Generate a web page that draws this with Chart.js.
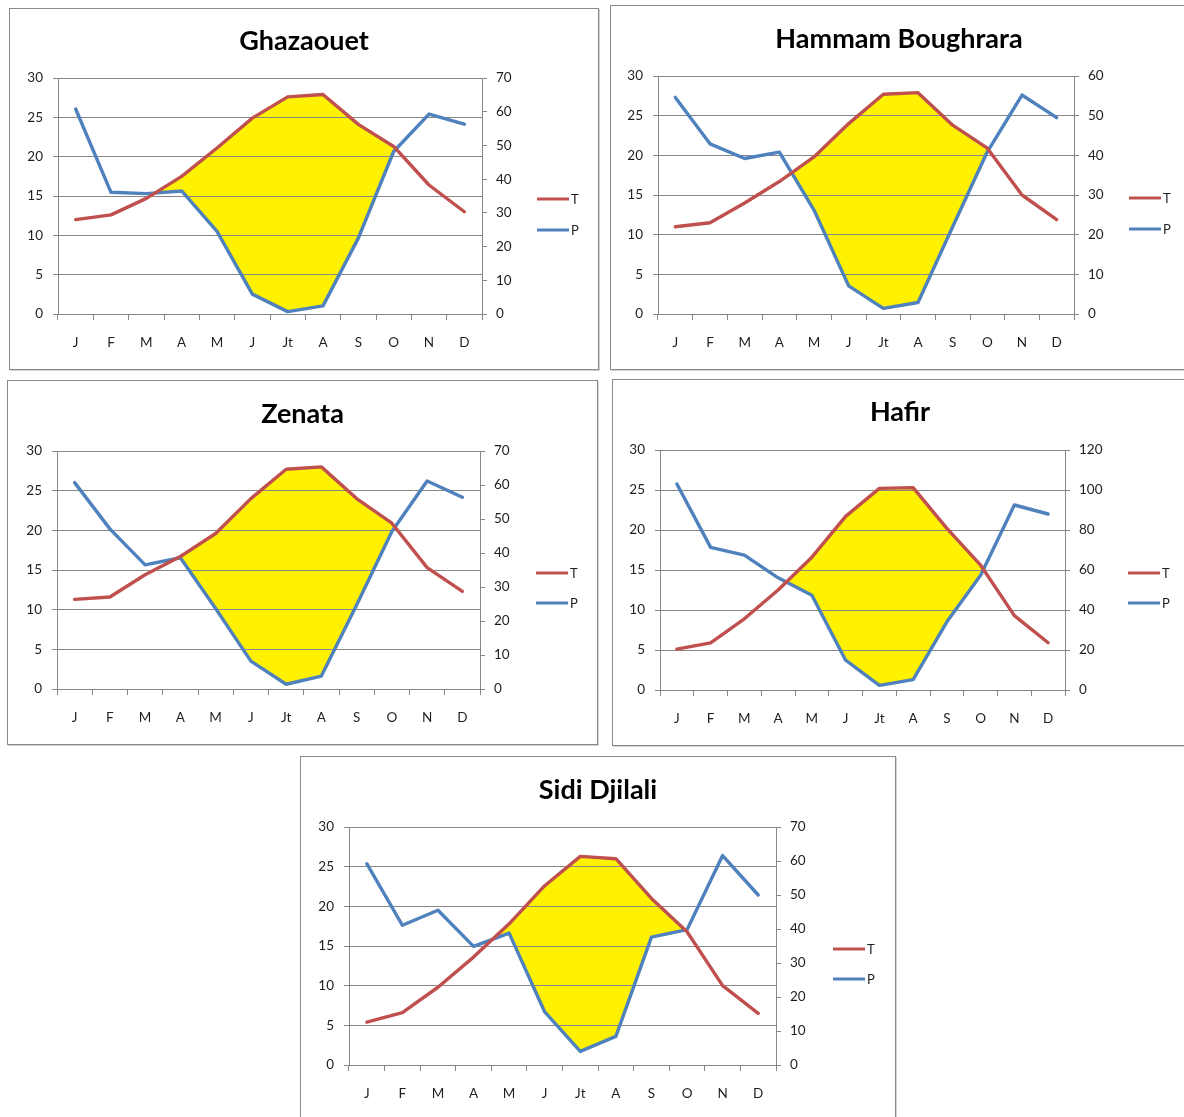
<!DOCTYPE html>
<html>
<head>
<meta charset="utf-8">
<title>Diagrammes ombrothermiques</title>
<script src="https://cdn.jsdelivr.net/npm/chart.js@4.4.1/dist/chart.umd.min.js"></script>
<style>
  html, body { margin: 0; padding: 0; width: 1184px; height: 1117px; overflow: hidden; background: #fff; }
  .panel { position: absolute; box-sizing: border-box; border: 1px solid #8a8a8a; box-shadow: 1px 1px 0 #d2d2d2; background: #fff; }
  .panel canvas { position: absolute; left: 0; top: 0; }
</style>
</head>
<body>
<script>
// Months (category axis)
const months = ['J', 'F', 'M', 'A', 'M', 'J', 'Jt', 'A', 'S', 'O', 'N', 'D'];

// Legend labels
const seriesNames = ['T', 'P'];

// Mean monthly temperature (°C) and precipitation (mm) per station
const ghazaouetT = [12.0, 12.6, 14.7, 17.5, 21.1, 24.9, 27.6, 27.9, 24.1, 21.3, 16.4, 13.0];
const ghazaouetP = [60.8, 36.1, 35.7, 36.5, 24.5, 5.9, 0.7, 2.4, 22.5, 48.2, 59.3, 56.3];

const hammamT = [11.0, 11.5, 14.0, 16.7, 19.8, 24.0, 27.7, 27.9, 23.8, 20.9, 15.0, 11.9];
const hammamP = [54.6, 42.9, 39.2, 40.8, 26.2, 7.1, 1.4, 2.9, 22.0, 40.9, 55.2, 49.5];

const zenataT = [11.3, 11.6, 14.4, 16.7, 19.6, 24.0, 27.7, 28.0, 24.0, 20.9, 15.3, 12.3];
const zenataP = [60.7, 47.1, 36.5, 38.6, 23.7, 8.2, 1.4, 3.8, 24.7, 46.3, 61.2, 56.4];

const hafirT = [5.1, 5.9, 8.9, 12.5, 16.6, 21.7, 25.2, 25.3, 20.2, 15.6, 9.3, 5.9];
const hafirP = [103.0, 71.3, 67.4, 56.1, 47.4, 14.9, 2.3, 5.2, 34.1, 57.4, 92.5, 88.0];

const sidiT = [5.4, 6.6, 9.8, 13.6, 17.8, 22.6, 26.3, 26.0, 21.0, 16.8, 10.0, 6.5];
const sidiP = [59.2, 41.1, 45.5, 34.9, 38.8, 15.6, 4.0, 8.4, 37.6, 39.8, 61.6, 50.0];

// Axis ranges
const tempMax = 30, tempStep = 5;
const precipMax = { ghazaouet: 70, hammam: 60, zenata: 70, hafir: 120, sidi: 70 };
const precipStep = { ghazaouet: 10, hammam: 10, zenata: 10, hafir: 20, sidi: 10 };

// Styling
const RED = '#C0504D';
const BLUE = '#4F81BD';
const YELLOW = '#FFF200';
const GRID = '#878787';
const TEXT = '#1e1e1e';
const FONT = 'Lato, "Open Sans", sans-serif';

// Panel placement (page pixels): frame box, plot area, title centre, legend anchor
const panels = [
  { key: 'ghazaouet', name: 'Ghazaouet', T: ghazaouetT, P: ghazaouetP,
    box: [9, 8, 590, 362], area: [58, 482, 78, 314], titleY: 41, legend: [537, 199, 230] },
  { key: 'hammam', name: 'Hammam Boughrara', T: hammamT, P: hammamP,
    box: [610, 5, 578, 365], area: [658, 1074, 76, 314], titleY: 39, legend: [1129, 198, 229] },
  { key: 'zenata', name: 'Zenata', T: zenataT, P: zenataP,
    box: [7, 380, 591, 365], area: [57, 480, 451, 689], titleY: 414, legend: [536, 573, 603] },
  { key: 'hafir', name: 'Hafir', T: hafirT, P: hafirP,
    box: [612, 379, 576, 367], area: [660, 1065, 450, 690], titleY: 412, legend: [1128, 573, 603] },
  { key: 'sidi', name: 'Sidi Djilali', T: sidiT, P: sidiP,
    box: [300, 756, 596, 370], area: [349, 776, 827, 1065], titleY: 790, legend: [833, 949, 979] }
];

// Small line legend drawn beside the plot
const lineLegend = {
  id: 'lineLegend',
  afterDraw(chart, args, opts) {
    const ctx = chart.ctx;
    ctx.save();
    ctx.font = '13px ' + FONT;
    ctx.textBaseline = 'middle';
    ctx.textAlign = 'left';
    chart.data.datasets.forEach((ds, i) => {
      const y = opts.ys[i];
      ctx.strokeStyle = ds.borderColor;
      ctx.lineWidth = 3;
      ctx.beginPath();
      ctx.moveTo(opts.x, y);
      ctx.lineTo(opts.x + 32, y);
      ctx.stroke();
      ctx.fillStyle = TEXT;
      ctx.fillText(ds.label, opts.x + 34, y + 1);
    });
    ctx.restore();
  }
};

panels.forEach(p => {
  const [bx, by, bw, bh] = p.box;
  const ox = bx + 1, oy = by + 1;          // canvas origin inside the frame border
  const W = bw - 2, H = bh - 2;
  const l = p.area[0] - ox, r = p.area[1] - ox, t = p.area[2] - oy, b = p.area[3] - oy;

  const div = document.createElement('div');
  div.className = 'panel';
  div.style.left = bx + 'px';
  div.style.top = by + 'px';
  div.style.width = bw + 'px';
  div.style.height = bh + 'px';
  const canvas = document.createElement('canvas');
  canvas.width = W;
  canvas.height = H;
  canvas.style.width = W + 'px';
  canvas.style.height = H + 'px';
  div.appendChild(canvas);
  document.body.appendChild(div);

  const titleSize = 27;
  const titleLine = titleSize * 1.2;
  const titleTop = (p.titleY - oy) - titleLine / 2;
  const titleBottom = t - titleTop - titleLine;

  new Chart(canvas, {
    type: 'line',
    data: {
      labels: months,
      datasets: [
        {
          label: seriesNames[0], data: p.T, yAxisID: 'yT',
          borderColor: RED, backgroundColor: RED, borderWidth: 3.4,
          pointRadius: 0, tension: 0, borderJoinStyle: 'round', borderCapStyle: 'round',
          fill: { target: 1, above: YELLOW, below: 'rgba(0,0,0,0)' }
        },
        {
          label: seriesNames[1], data: p.P, yAxisID: 'yP',
          borderColor: BLUE, backgroundColor: BLUE, borderWidth: 3.4,
          pointRadius: 0, tension: 0, borderJoinStyle: 'round', borderCapStyle: 'round',
          fill: false
        }
      ]
    },
    options: {
      responsive: false,
      animation: false,
      devicePixelRatio: 1,
      layout: { padding: 0 },
      plugins: {
        legend: { display: false },
        tooltip: { enabled: false },
        filler: { drawTime: 'beforeDraw', propagate: false },
        title: {
          display: true, text: p.name, color: '#000',
          font: { family: FONT, size: titleSize, weight: 'bold' },
          padding: { top: titleTop, bottom: titleBottom }
        },
        lineLegend: { x: p.legend[0] - ox, ys: [p.legend[1] - oy, p.legend[2] - oy] }
      },
      scales: {
        x: {
          type: 'category', offset: true,
          grid: { offset: true, drawOnChartArea: false, color: GRID, tickLength: 6 },
          border: { color: GRID },
          ticks: { color: TEXT, font: { family: FONT, size: 13.5 }, padding: 15, maxRotation: 0, autoSkip: false },
          afterFit: s => { s.height = H - b; }
        },
        yT: {
          position: 'left', min: 0, max: tempMax,
          ticks: { stepSize: tempStep, color: TEXT, font: { family: FONT, size: 13.5 }, padding: 10 },
          grid: { color: GRID, tickLength: 5 },
          border: { color: GRID },
          afterFit: s => { s.width = l; }
        },
        yP: {
          position: 'right', min: 0, max: precipMax[p.key],
          ticks: { stepSize: precipStep[p.key], color: TEXT, font: { family: FONT, size: 13.5 }, padding: 9 },
          grid: { drawOnChartArea: false, color: GRID, tickLength: 5 },
          border: { color: GRID },
          afterFit: s => { s.width = W - r; }
        }
      }
    },
    plugins: [lineLegend]
  });
});
</script>
</body>
</html>
